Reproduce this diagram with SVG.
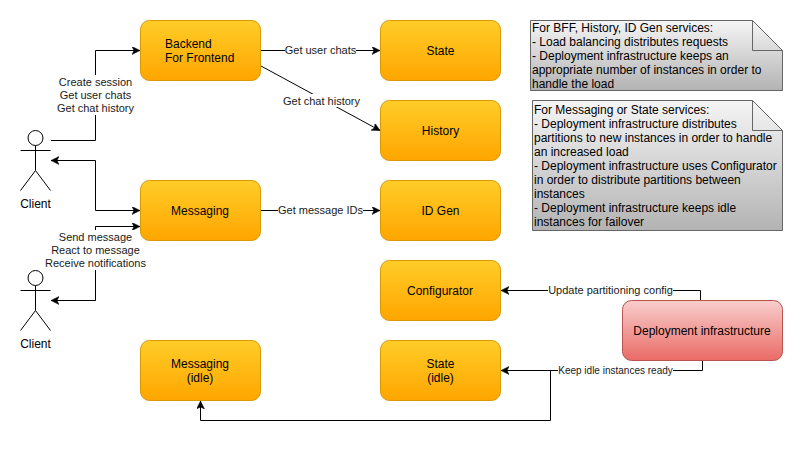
<svg xmlns="http://www.w3.org/2000/svg" width="803" height="449" viewBox="0 0 803 449">
<style>
text{font-family:"Liberation Sans",Arial,sans-serif;fill:#000}
.n{font-size:12px;text-anchor:middle}
.l{font-size:11px;text-anchor:middle;fill:#1a1a1a}
.t{font-size:12px}
.o{fill:url(#og);stroke:#d79b00}
.c{fill:none;stroke:#000;stroke-width:1}
.a{marker-end:url(#ah)}
.note{fill:url(#gg);stroke:#666}
.fold{fill:none;stroke:#666}
.act{fill:#fff;stroke:#000}
.lb{fill:#fff}
</style>
<defs>
<linearGradient id="og" x1="0" y1="0" x2="0" y2="1"><stop offset="0" stop-color="#ffcd28"/><stop offset="1" stop-color="#ffa500"/></linearGradient>
<linearGradient id="rg" x1="0" y1="0" x2="0" y2="1"><stop offset="0" stop-color="#f8cecc"/><stop offset="1" stop-color="#ea6b66"/></linearGradient>
<linearGradient id="gg" x1="0" y1="0" x2="0" y2="1"><stop offset="0" stop-color="#f5f5f5"/><stop offset="1" stop-color="#b3b3b3"/></linearGradient>
<marker id="ah" markerUnits="userSpaceOnUse" markerWidth="10" markerHeight="10" refX="8" refY="4" orient="auto"><path d="M0,0 L8,4 L0,8 L2,4 Z" fill="#000" stroke="#000" stroke-width=".5"/></marker>
</defs>
<g id="connectors">
<path class="c a" d="M51,140.500H95.500V50.500H140"/>
<path class="c a" d="M95.500,160.500H51" />
<path class="c a" d="M95.500,160.500V210.500H140"/>
<path class="c a" d="M95.500,300.500V226.500H140"/>
<path class="c a" d="M95.500,270V300.500H51"/>
<path class="c a" d="M261,50.500H380"/>
<path class="c a" d="M261,66L380,130.500"/>
<path class="c a" d="M261,210.500H380"/>
<path class="c a" d="M700.500,300V290.500H501"/>
<path class="c a" d="M702.500,360V370.500H501"/>
<path class="c a" d="M550.500,370.500V420.500H200.500V401"/>
<rect class="lb" x="56" y="75" width="80" height="40"/>
<rect class="lb" x="44" y="230" width="103" height="40"/>
<rect class="lb" x="285" y="44" width="71" height="13"/>
<rect class="lb" x="283" y="94" width="77" height="13"/>
<rect class="lb" x="278" y="204" width="85" height="13"/>
<rect class="lb" x="548" y="284" width="125" height="13"/>
<rect class="lb" x="558" y="364" width="115" height="13"/>
<text class="l" x="95.500" y="86">Create session</text>
<text class="l" x="95.500" y="99">Get user chats</text>
<text class="l" x="95.500" y="112">Get chat history</text>
<text class="l" x="95.500" y="241">Send message</text>
<text class="l" x="95.500" y="254">React to message</text>
<text class="l" x="95.500" y="267">Receive notifications</text>
<text class="l" x="320.500" y="54">Get user chats</text>
<text class="l" x="321.500" y="105">Get chat history</text>
<text class="l" x="320.500" y="214">Get message IDs</text>
<text class="l" x="610.500" y="294">Update partitioning config</text>
<text class="l" x="615.500" y="374" style="font-size:10px">Keep idle instances ready</text>
</g>
<g id="client1">
<circle class="act" cx="35.500" cy="138" r="7.500"/>
<path class="c" d="M35.500,145.500V170.500M20.500,150.500H50.500M35.500,170.500L20.500,190.500M35.500,170.500L50.500,190.500"/>
<text class="n" x="35.500" y="208">Client</text>
</g>
<g id="client2">
<circle class="act" cx="35.500" cy="278" r="7.500"/>
<path class="c" d="M35.500,285.500V310.500M20.500,290.500H50.500M35.500,310.500L20.500,330.500M35.500,310.500L50.500,330.500"/>
<text class="n" x="35.500" y="348">Client</text>
</g>
<g id="bff"><rect class="o" x="140.500" y="20.500" width="120" height="60" rx="9"/><text class="t" x="165" y="48">Backend</text><text class="t" x="165" y="62">For Frontend</text></g>
<g id="state"><rect class="o" x="380.500" y="20.500" width="120" height="60" rx="9"/><text class="n" x="440.500" y="55">State</text></g>
<g id="history"><rect class="o" x="380.500" y="100.500" width="120" height="60" rx="9"/><text class="n" x="440.500" y="135">History</text></g>
<g id="messaging"><rect class="o" x="140.500" y="180.500" width="120" height="60" rx="9"/><text class="n" x="200" y="215">Messaging</text></g>
<g id="idgen"><rect class="o" x="380.500" y="180.500" width="120" height="60" rx="9"/><text class="n" x="440.500" y="215">ID Gen</text></g>
<g id="configurator"><rect class="o" x="380.500" y="260.500" width="120" height="60" rx="9"/><text class="n" x="440" y="295">Configurator</text></g>
<g id="messaging-idle"><rect class="o" x="140.500" y="340.500" width="120" height="60" rx="9"/><text class="n" x="200" y="368">Messaging</text><text class="n" x="200" y="382">(idle)</text></g>
<g id="state-idle"><rect class="o" x="380.500" y="340.500" width="120" height="60" rx="9"/><text class="n" x="440.500" y="368">State</text><text class="n" x="440.500" y="382">(idle)</text></g>
<g id="deployment"><rect x="622.500" y="300.500" width="160" height="60" rx="9" fill="url(#rg)" stroke="#b85450"/><text class="n" x="702" y="335">Deployment infrastructure</text></g>
<g id="note1">
<path class="note" d="M530.500,20.500H752.500L782.500,50.500V90.500H530.500Z"/>
<path class="fold" d="M752.500,20.500V50.500H782.500"/>
<text class="t" x="532" y="32">For BFF, History, ID Gen services:</text>
<text class="t" x="532" y="46">- Load balancing distributes requests</text>
<text class="t" x="532" y="60">- Deployment infrastructure keeps an</text>
<text class="t" x="532" y="74">appropriate number of instances in order to</text>
<text class="t" x="532" y="88">handle the load</text>
</g>
<g id="note2">
<path class="note" d="M532.500,100.500H752.500L782.500,130.500V230.500H532.500Z"/>
<path class="fold" d="M752.500,100.500V130.500H782.500"/>
<text class="t" x="534" y="114">For Messaging or State services:</text>
<text class="t" x="534" y="128">- Deployment infrastructure distributes</text>
<text class="t" x="534" y="142">partitions to new instances in order to handle</text>
<text class="t" x="534" y="156">an increased load</text>
<text class="t" x="534" y="170">- Deployment infrastructure uses Configurator</text>
<text class="t" x="534" y="184">in order to distribute partitions between</text>
<text class="t" x="534" y="198">instances</text>
<text class="t" x="534" y="212">- Deployment infrastructure keeps idle</text>
<text class="t" x="534" y="226">instances for failover</text>
</g>
</svg>
